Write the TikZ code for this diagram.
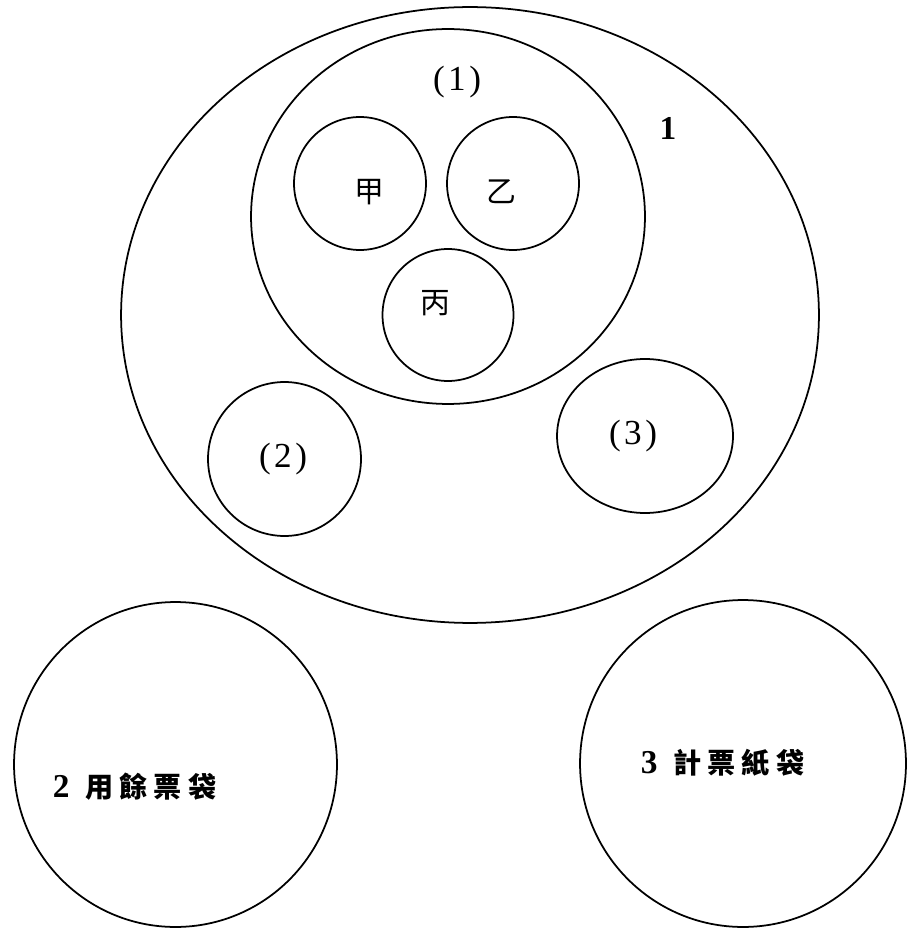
\documentclass[tikz,border=0pt]{standalone}
\usepackage{fontspec}
\setmainfont{Liberation Serif}
\newfontfamily\cjk{Noto Sans CJK TC}
\usetikzlibrary{shapes.geometric}

\begin{document}
\begin{tikzpicture}[
    x=0.02cm, y=-0.02cm, line width=1pt,
    bag/.style={draw, ellipse, inner sep=0pt},
    han/.style={inner sep=0pt, font=\cjk\fontsize{17}{17}\selectfont},
    num/.style={inner sep=0pt, font=\fontsize{20}{20}\selectfont},
    bignum/.style={inner sep=0pt, font=\fontsize{19}{19}\selectfont\bfseries}
]
\useasboundingbox (0,0) rectangle (907,928);

\node (box_1) [bag, minimum width=13.96cm, minimum height=12.32cm] at (470,315) {};
\node (group_1) [bag, minimum width=7.88cm, minimum height=7.5cm] at (448,216.5) {};
\node (jia) [bag, minimum width=2.64cm, minimum height=2.66cm] at (360,183.5) {};
\node (yi) [bag, minimum width=2.64cm, minimum height=2.66cm] at (513,183.5) {};
\node (bing) [bag, minimum width=2.62cm, minimum height=2.64cm] at (448,315) {};
\node (group_2) [bag, minimum width=3.06cm, minimum height=3.08cm] at (284.5,459) {};
\node (group_3) [bag, minimum width=3.52cm, minimum height=3.08cm] at (645,436) {};
\node (bag_2) [bag, minimum width=6.46cm, minimum height=6.5cm] at (175.5,764.5) {};
\node (bag_3) [bag, minimum width=6.52cm, minimum height=6.54cm] at (743,763.5) {};

\node (label_box_1) [bignum] at (668,128) {1};
\node (label_group_1) [num] at (457,82) {(\hspace{2pt}1\hspace{2pt})};
\node (label_jia) [han] at (369,192) {甲};
\node (label_yi) [han] at (501,192) {乙};
\node (label_bing) [han] at (435,303) {丙};
\node (label_group_2) [num] at (283,459) {(\hspace{2pt}2\hspace{2pt})};
\node (label_group_3) [num] at (633,436) {(\hspace{2pt}3\hspace{2pt})};
\node (label_bag_2) [bignum, anchor=west] at (52,787) {2\hspace{9pt}{\cjk\fontsize{16}{16}\selectfont 用\hspace{3.5pt}餘\hspace{3.5pt}票\hspace{3.5pt}袋}};
\node (label_bag_3) [bignum, anchor=west] at (640,763) {3\hspace{9pt}{\cjk\fontsize{16}{16}\selectfont 計\hspace{3.5pt}票\hspace{3.5pt}紙\hspace{3.5pt}袋}};
\end{tikzpicture}
\end{document}
